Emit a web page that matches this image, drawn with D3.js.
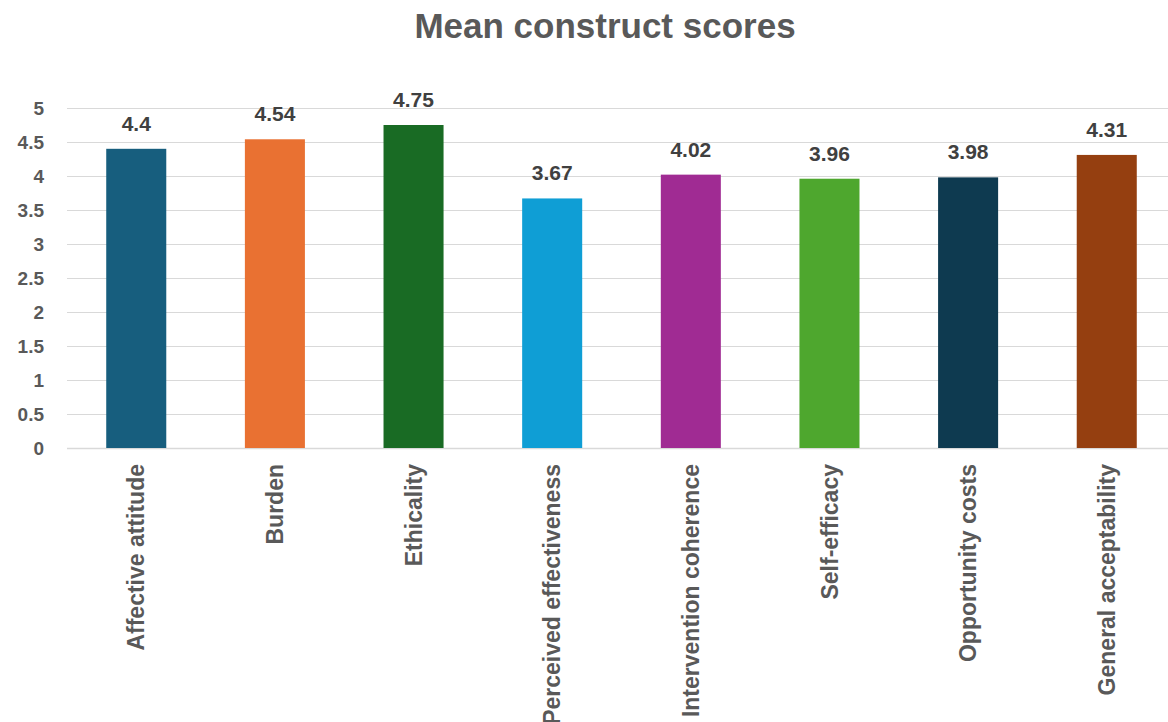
<!DOCTYPE html>
<html><head><meta charset="utf-8">
<script src="https://cdn.jsdelivr.net/npm/d3@7"></script>
<style>body{margin:0;background:#fff;}svg{display:block;}</style>
</head><body>
<svg id="c" width="1168" height="722"></svg>
<script>
const categories = ["Affective attitude","Burden","Ethicality","Perceived effectiveness","Intervention coherence","Self-efficacy","Opportunity costs","General acceptability"];
const values = [4.4,4.54,4.75,3.67,4.02,3.96,3.98,4.31];
const colors = ["#175E7E","#E97132","#196B24","#0F9ED5","#A02B93","#4EA72E","#0E3A50","#953F10"];
const yTicks = [0,0.5,1,1.5,2,2.5,3,3.5,4,4.5,5];
const title = "Mean construct scores";

(function(){
const svg = d3.select("#c");
const mLeft = 67, mRight = 1176, mTop = 108, mBottom = 448;
const x = d3.scaleBand().domain(categories).range([mLeft,mRight]).paddingInner(0.567).paddingOuter(0.283);
const y = d3.scaleLinear().domain([0,5]).range([mBottom,mTop]);

svg.append("text").attr("x",605).attr("y",38).attr("text-anchor","middle")
  .attr("font-family","'Liberation Sans',Arial,sans-serif").attr("font-weight","bold")
  .attr("font-size",35).attr("fill","#595959").text(title);

svg.append("g").selectAll("line").data(yTicks).join("line")
  .attr("x1",mLeft).attr("x2",1168).attr("y1",d=>Math.round(y(d))+0.5).attr("y2",d=>Math.round(y(d))+0.5)
  .attr("stroke","#d9d9d9").attr("stroke-width",d=>d===0?1.6:1.2);

const yAxis = svg.append("g").attr("transform",`translate(${mLeft},0)`)
  .call(d3.axisLeft(y).tickValues(yTicks).tickSize(0).tickPadding(23).tickFormat(d3.format("")));
yAxis.select(".domain").remove();
yAxis.selectAll("text").attr("font-family","'Liberation Sans',Arial,sans-serif").attr("font-weight","bold")
  .attr("font-size",19).attr("fill","#595959");

svg.append("g").selectAll("rect").data(values).join("rect")
  .attr("x",(d,i)=>x(categories[i])).attr("width",x.bandwidth())
  .attr("y",d=>y(d)).attr("height",d=>mBottom-y(d)).attr("fill",(d,i)=>colors[i]);

svg.append("g").selectAll("text").data(values).join("text")
  .attr("x",(d,i)=>x(categories[i])+x.bandwidth()/2).attr("y",d=>y(d)-18)
  .attr("text-anchor","middle").attr("font-family","'Liberation Sans',Arial,sans-serif")
  .attr("font-weight","bold").attr("font-size",21).attr("fill","#404040").text(d=>d);

const xAxis = svg.append("g").attr("transform",`translate(0,${mBottom})`)
  .call(d3.axisBottom(x).tickSize(0));
xAxis.select(".domain").remove();
xAxis.selectAll("text").attr("font-family","'Liberation Sans',Arial,sans-serif").attr("font-weight","bold")
  .attr("font-size",23).attr("fill","#595959")
  .attr("transform","rotate(-90)").attr("text-anchor","end").attr("dy","0.35em")
  .attr("x",-16).attr("y",0);
})();
</script>
</body></html>
